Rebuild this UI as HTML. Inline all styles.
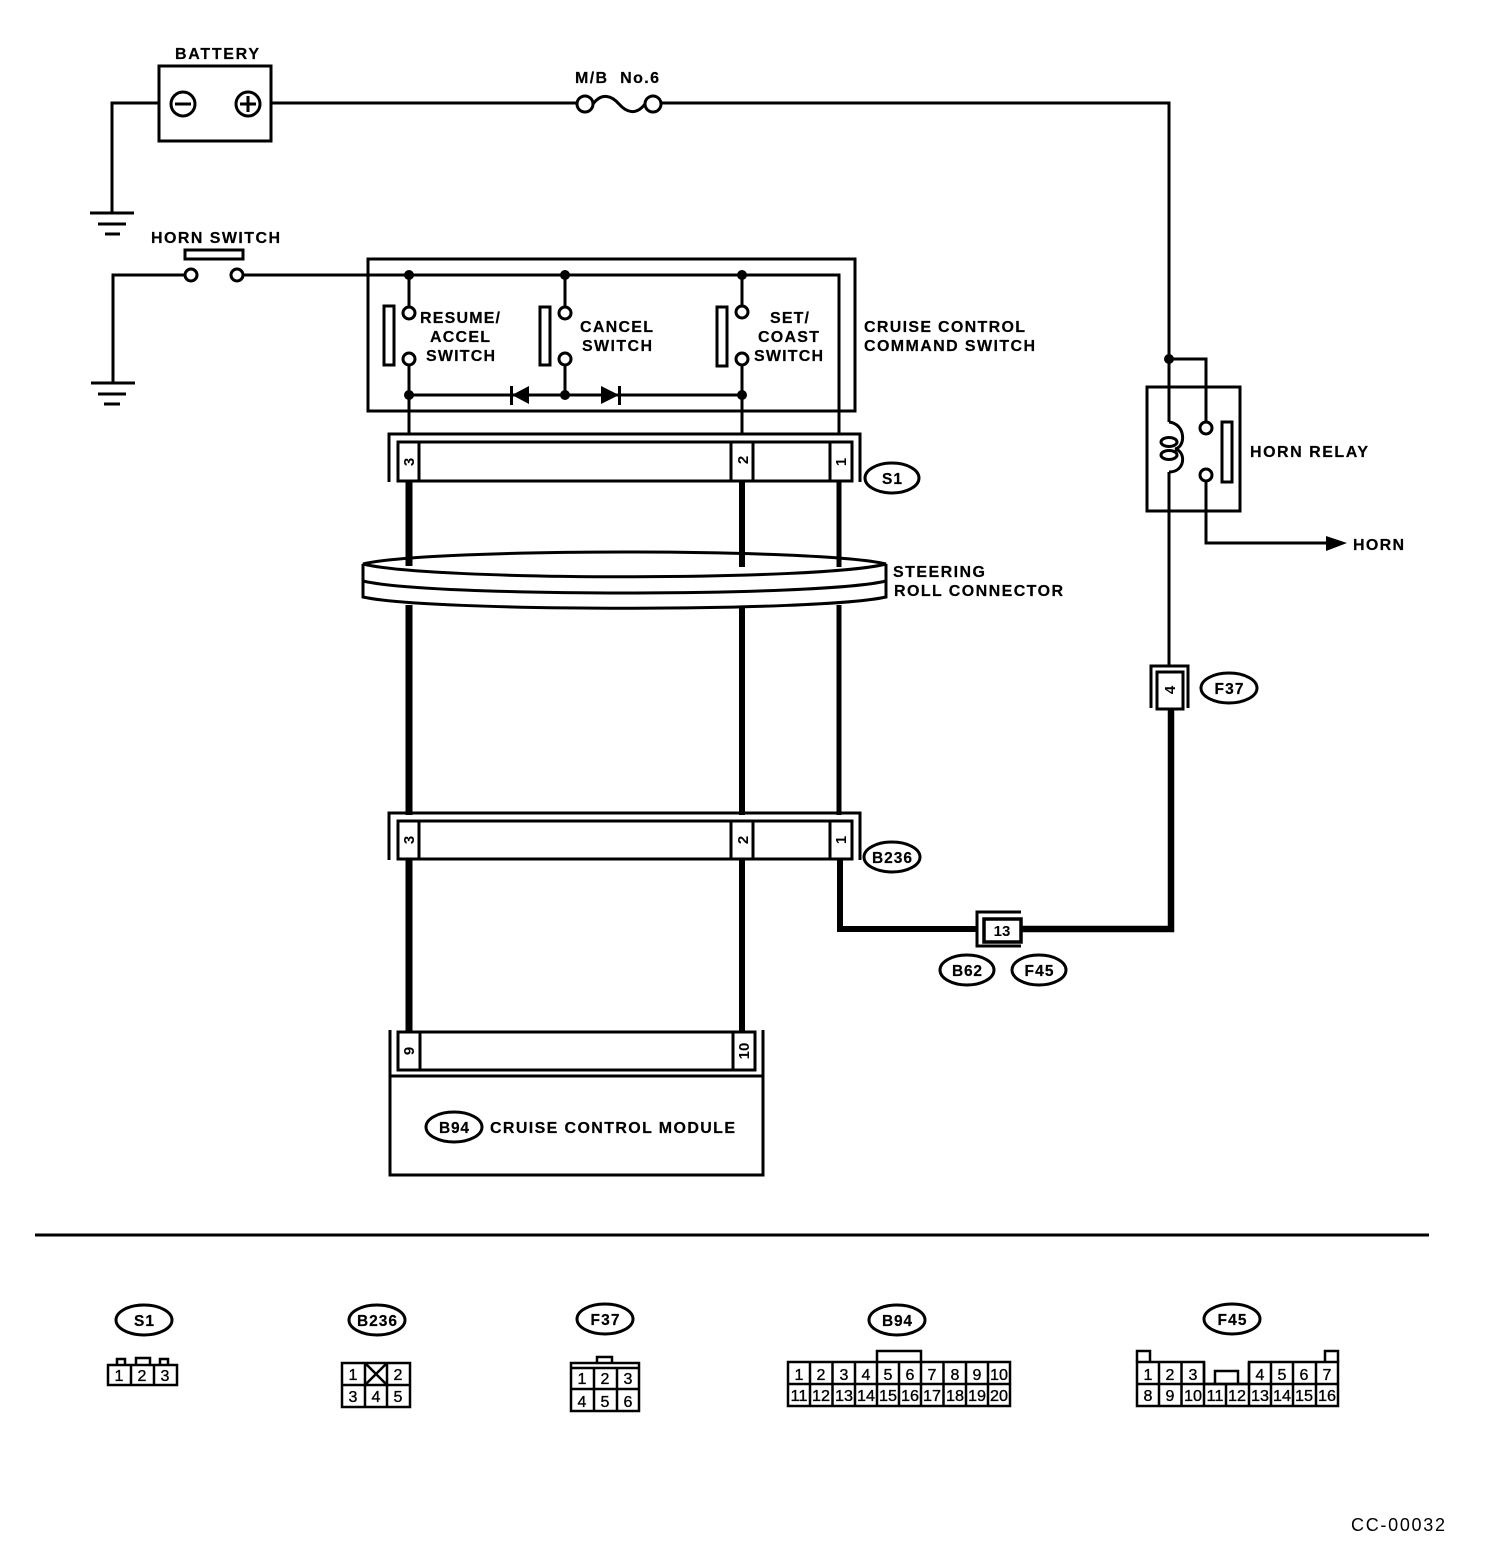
<!DOCTYPE html>
<html><head><meta charset="utf-8"><style>
html,body{margin:0;padding:0;background:#fff}
svg{display:block}
text{font-family:"Liberation Sans",sans-serif;fill:#000}
.l{font-weight:bold;font-size:16px;stroke:#000;stroke-width:.2}
.o{font-weight:bold;font-size:15.500px;text-anchor:middle;stroke:#000;stroke-width:.2}
.n{font-size:16px;text-anchor:middle;stroke:#000;stroke-width:.35}
.p{font-weight:bold;font-size:15px;text-anchor:middle}
</style></head><body>
<svg width="1504" height="1560" viewBox="0 0 1504 1560" xmlns="http://www.w3.org/2000/svg">
<g fill="none" stroke="#000" stroke-width="3">
<!-- battery -->
<rect x="159" y="66" width="112" height="75"/>
<circle cx="183" cy="104" r="12"/><path d="M175 104H191"/>
<circle cx="248" cy="104" r="12"/><path d="M240 104H256M248 96V112"/>
<path d="M159 103H112V212"/>
<path d="M90 213H134M98 224H126M105 234H120"/>
<path d="M271 103H577"/>
<circle cx="585" cy="104" r="8"/><circle cx="653" cy="104" r="8"/>
<path d="M593 104C602 92 612 96 619 104C626 112 636 116 645 104"/>
<path d="M661 103H1169V422M1169 472V666"/>
<!-- horn switch -->
<rect x="185" y="250" width="58" height="9"/>
<circle cx="191" cy="275" r="6"/><circle cx="237" cy="275" r="6"/>
<path d="M185 275H113V382"/>
<path d="M91 383H135M98 394H126M104 404H120"/>
<path d="M243 275H839V434"/>
<!-- command switch -->
<rect x="368" y="259" width="487" height="152"/>
<path d="M409 275V307M565 275V307M742 275V306"/>
<circle cx="409" cy="313" r="6"/><circle cx="409" cy="359" r="6"/>
<circle cx="565" cy="313" r="6"/><circle cx="565" cy="359" r="6"/>
<circle cx="742" cy="312" r="6"/><circle cx="742" cy="359" r="6"/>
<rect x="384" y="306" width="10" height="59"/>
<rect x="540" y="307" width="10" height="58"/>
<rect x="717" y="307" width="10" height="59"/>
<path d="M409 365V434M565 365V395M742 365V434M409 395H742"/>
<!-- S1 connector -->
<path d="M389 482V434H860V482"/>
<rect x="398" y="442" width="454" height="39"/>
<path d="M419 442V481M731 442V481M753 442V481M830 442V481"/>
<!-- roll connector -->
<path d="M363 564C430 548 820 548 886 564C820 581 430 581 363 564Z"/>
<path d="M363 564V597C430 612 820 612 886 597V564"/>
<path d="M363 581C430 597 820 597 886 581"/>
<!-- B236 connector -->
<path d="M389 860V813H860V860"/>
<rect x="398" y="821" width="454" height="38"/>
<path d="M419 821V859M731 821V859M753 821V859M830 821V859"/>
<!-- module -->
<path d="M390 1075V1030M763 1075V1030"/>
<rect x="398" y="1032" width="357" height="38"/>
<path d="M420 1032V1070M733 1032V1070"/>
<rect x="390" y="1076" width="373" height="99"/>
<!-- 13 connector -->
<path d="M1021 912H977V946H1021"/>
<rect x="984" y="919" width="37" height="23" stroke-width="3.500"/>
<!-- F37 -->
<path d="M1151 708V666H1188V708"/>
<rect x="1157" y="672" width="26" height="37"/>
<!-- relay -->
<rect x="1147" y="387" width="93" height="124"/>
<path d="M1169 359H1206V422"/>
<circle cx="1206" cy="428" r="6"/><circle cx="1206" cy="475" r="6"/>
<rect x="1222" y="422" width="10" height="60"/>
<path d="M1169 422C1186 424 1186 447 1175 449C1186 451 1186 472 1169 472"/>
<ellipse cx="1169" cy="442" rx="8" ry="4.500"/><ellipse cx="1169" cy="455" rx="8" ry="4.500"/>
<path d="M1206 481V543H1330"/>
<!-- bottom divider -->
<path d="M35 1235H1429"/>
<!-- ovals -->
<ellipse cx="892" cy="478" rx="27" ry="15"/>
<ellipse cx="892" cy="857" rx="28" ry="15"/>
<ellipse cx="1229" cy="688" rx="28" ry="15"/>
<ellipse cx="967" cy="970" rx="27" ry="15"/>
<ellipse cx="1039" cy="970" rx="27" ry="15"/>
<ellipse cx="454" cy="1127" rx="28" ry="15"/>
<ellipse cx="144" cy="1320" rx="28" ry="15"/>
<ellipse cx="377" cy="1320" rx="28" ry="15"/>
<ellipse cx="605" cy="1319" rx="28" ry="15"/>
<ellipse cx="897" cy="1320" rx="28" ry="15"/>
<ellipse cx="1232" cy="1319" rx="28" ry="15"/>
</g>
<!-- heavy wires -->
<g fill="none" stroke="#000">
<path stroke-width="7" d="M409 481V566M409 605V815M409 860V1032"/>
<path stroke-width="6" d="M742 481V567M742 607V815M742 860V1032"/>
<path stroke-width="5" d="M839 481V567M839 605V815"/>
<path stroke-width="6" d="M840 860V929H978"/>
<path stroke-width="6.500" d="M1020 929H1171V710"/>
</g>
<!-- nodes, diodes, arrow -->
<g fill="#000" stroke="none">
<circle cx="409" cy="275" r="5"/><circle cx="565" cy="275" r="5"/><circle cx="742" cy="275" r="5"/>
<circle cx="409" cy="395" r="5"/><circle cx="565" cy="395" r="5"/><circle cx="742" cy="395" r="5"/>
<circle cx="1169" cy="359" r="5"/>
<path d="M512 395L529 386V404Z"/><rect x="510" y="386" width="3" height="19"/>
<path d="M619 395L601 386V404Z"/><rect x="618" y="386" width="3" height="19"/>
<path d="M1347 543L1326 536V551Z"/>
</g>
<!-- labels -->
<text class="l" x="175" y="59" textLength="84">BATTERY</text>
<text class="l" x="575" y="83" textLength="84">M/B&#160;&#160;No.6</text>
<text class="l" x="151" y="243" textLength="129">HORN SWITCH</text>
<text class="l" x="420" y="323" textLength="80">RESUME/</text>
<text class="l" x="430" y="342" textLength="60">ACCEL</text>
<text class="l" x="426" y="361" textLength="69">SWITCH</text>
<text class="l" x="580" y="332" textLength="73">CANCEL</text>
<text class="l" x="582" y="351" textLength="70">SWITCH</text>
<text class="l" x="770" y="323" textLength="39">SET/</text>
<text class="l" x="758" y="342" textLength="61">COAST</text>
<text class="l" x="754" y="361" textLength="69">SWITCH</text>
<text class="l" x="864" y="332" textLength="161">CRUISE CONTROL</text>
<text class="l" x="864" y="351" textLength="171">COMMAND SWITCH</text>
<text class="l" x="1250" y="457" textLength="118">HORN RELAY</text>
<text class="l" x="1353" y="550" textLength="51">HORN</text>
<text class="l" x="893" y="577" textLength="92">STEERING</text>
<text class="l" x="894" y="596" textLength="169">ROLL CONNECTOR</text>
<text class="l" x="490" y="1133" textLength="245">CRUISE CONTROL MODULE</text>
<text x="1351" y="1531" font-size="18" textLength="94">CC-00032</text>
<!-- oval labels -->
<text class="o" x="892" y="484" textLength="20">S1</text>
<text class="o" x="892" y="863" textLength="40">B236</text>
<text class="o" x="1229" y="694" textLength="29">F37</text>
<text class="o" x="967" y="976" textLength="30">B62</text>
<text class="o" x="1039" y="976" textLength="29">F45</text>
<text class="o" x="454" y="1133" textLength="30">B94</text>
<text class="o" x="144" y="1326" textLength="20">S1</text>
<text class="o" x="377" y="1326" textLength="40">B236</text>
<text class="o" x="605" y="1325" textLength="29">F37</text>
<text class="o" x="897" y="1326" textLength="30">B94</text>
<text class="o" x="1232" y="1325" textLength="29">F45</text>
<!-- pin labels -->
<text class="p" transform="translate(414 462) rotate(-90)">3</text>
<text class="p" transform="translate(748 460) rotate(-90)">2</text>
<text class="p" transform="translate(846 462) rotate(-90)">1</text>
<text class="p" transform="translate(414 840) rotate(-90)">3</text>
<text class="p" transform="translate(748 840) rotate(-90)">2</text>
<text class="p" transform="translate(846 840) rotate(-90)">1</text>
<text class="p" transform="translate(414 1051) rotate(-90)">9</text>
<text class="p" transform="translate(749 1051) rotate(-90)">10</text>
<text class="p" x="1002" y="936">13</text>
<text class="p" transform="translate(1175 690) rotate(-90)">4</text>
<!-- bottom connectors -->
<g fill="none" stroke="#000" stroke-width="2.500">
<rect x="108" y="1365" width="69" height="20"/>
<path d="M131 1365V1385M154 1365V1385M117 1365V1359H125V1365M136 1365V1358H150V1365M160 1365V1359H168V1365"/>
<rect x="342" y="1363" width="68" height="44"/>
<path d="M342 1385H410M365 1363V1407M387 1363V1407M365 1363L387 1385M387 1363L365 1385"/>
<rect x="571" y="1363" width="68" height="48"/>
<path d="M571 1368H639M571 1389H639M594 1368V1411M617 1368V1411M597 1363V1357H612V1363"/>
<rect x="788" y="1362" width="222" height="44"/>
<path d="M788 1384H1010M810 1362V1406M832.500 1362V1406M855 1362V1406M877 1362V1406M899 1362V1406M921 1362V1406M943.500 1362V1406M966 1362V1406M988 1362V1406M877 1362V1351H921V1362"/>
<path d="M1137 1362H1204V1384H1249V1362H1338V1406H1137Z"/>
<path d="M1137 1384H1338M1159 1362V1406M1181.500 1362V1406M1204 1362V1406M1226 1384V1406M1249 1362V1406M1271 1362V1406M1293 1362V1406M1316 1362V1406M1137 1362V1351H1150V1362M1325 1362V1351H1338V1362M1215 1384V1371H1238V1384"/>
</g>
<g>
<text class="n" x="119" y="1381">1</text><text class="n" x="142" y="1381">2</text><text class="n" x="165" y="1381">3</text>
<text class="n" x="353" y="1380">1</text><text class="n" x="398" y="1380">2</text>
<text class="n" x="353" y="1402">3</text><text class="n" x="376" y="1402">4</text><text class="n" x="398" y="1402">5</text>
<text class="n" x="582" y="1384">1</text><text class="n" x="605" y="1384">2</text><text class="n" x="628" y="1384">3</text>
<text class="n" x="582" y="1407">4</text><text class="n" x="605" y="1407">5</text><text class="n" x="628" y="1407">6</text>
<text class="n" x="799" y="1380">1</text><text class="n" x="821" y="1380">2</text><text class="n" x="844" y="1380">3</text><text class="n" x="866" y="1380">4</text><text class="n" x="888" y="1380">5</text><text class="n" x="910" y="1380">6</text><text class="n" x="932" y="1380">7</text><text class="n" x="955" y="1380">8</text><text class="n" x="977" y="1380">9</text><text class="n" x="999" y="1380" textLength="18" lengthAdjust="spacingAndGlyphs">10</text>
<text class="n" x="799" y="1401" textLength="17" lengthAdjust="spacingAndGlyphs">11</text><text class="n" x="821" y="1401" textLength="18" lengthAdjust="spacingAndGlyphs">12</text><text class="n" x="844" y="1401" textLength="18" lengthAdjust="spacingAndGlyphs">13</text><text class="n" x="866" y="1401" textLength="18" lengthAdjust="spacingAndGlyphs">14</text><text class="n" x="888" y="1401" textLength="18" lengthAdjust="spacingAndGlyphs">15</text><text class="n" x="910" y="1401" textLength="18" lengthAdjust="spacingAndGlyphs">16</text><text class="n" x="932" y="1401" textLength="18" lengthAdjust="spacingAndGlyphs">17</text><text class="n" x="955" y="1401" textLength="18" lengthAdjust="spacingAndGlyphs">18</text><text class="n" x="977" y="1401" textLength="18" lengthAdjust="spacingAndGlyphs">19</text><text class="n" x="999" y="1401" textLength="18" lengthAdjust="spacingAndGlyphs">20</text>
<text class="n" x="1148" y="1380">1</text><text class="n" x="1170" y="1380">2</text><text class="n" x="1193" y="1380">3</text><text class="n" x="1260" y="1380">4</text><text class="n" x="1282" y="1380">5</text><text class="n" x="1304" y="1380">6</text><text class="n" x="1327" y="1380">7</text>
<text class="n" x="1148" y="1401">8</text><text class="n" x="1170" y="1401">9</text><text class="n" x="1193" y="1401" textLength="18" lengthAdjust="spacingAndGlyphs">10</text><text class="n" x="1215" y="1401" textLength="17" lengthAdjust="spacingAndGlyphs">11</text><text class="n" x="1237" y="1401" textLength="18" lengthAdjust="spacingAndGlyphs">12</text><text class="n" x="1260" y="1401" textLength="18" lengthAdjust="spacingAndGlyphs">13</text><text class="n" x="1282" y="1401" textLength="18" lengthAdjust="spacingAndGlyphs">14</text><text class="n" x="1304" y="1401" textLength="18" lengthAdjust="spacingAndGlyphs">15</text><text class="n" x="1327" y="1401" textLength="18" lengthAdjust="spacingAndGlyphs">16</text>
</g>
</svg>
</body></html>
